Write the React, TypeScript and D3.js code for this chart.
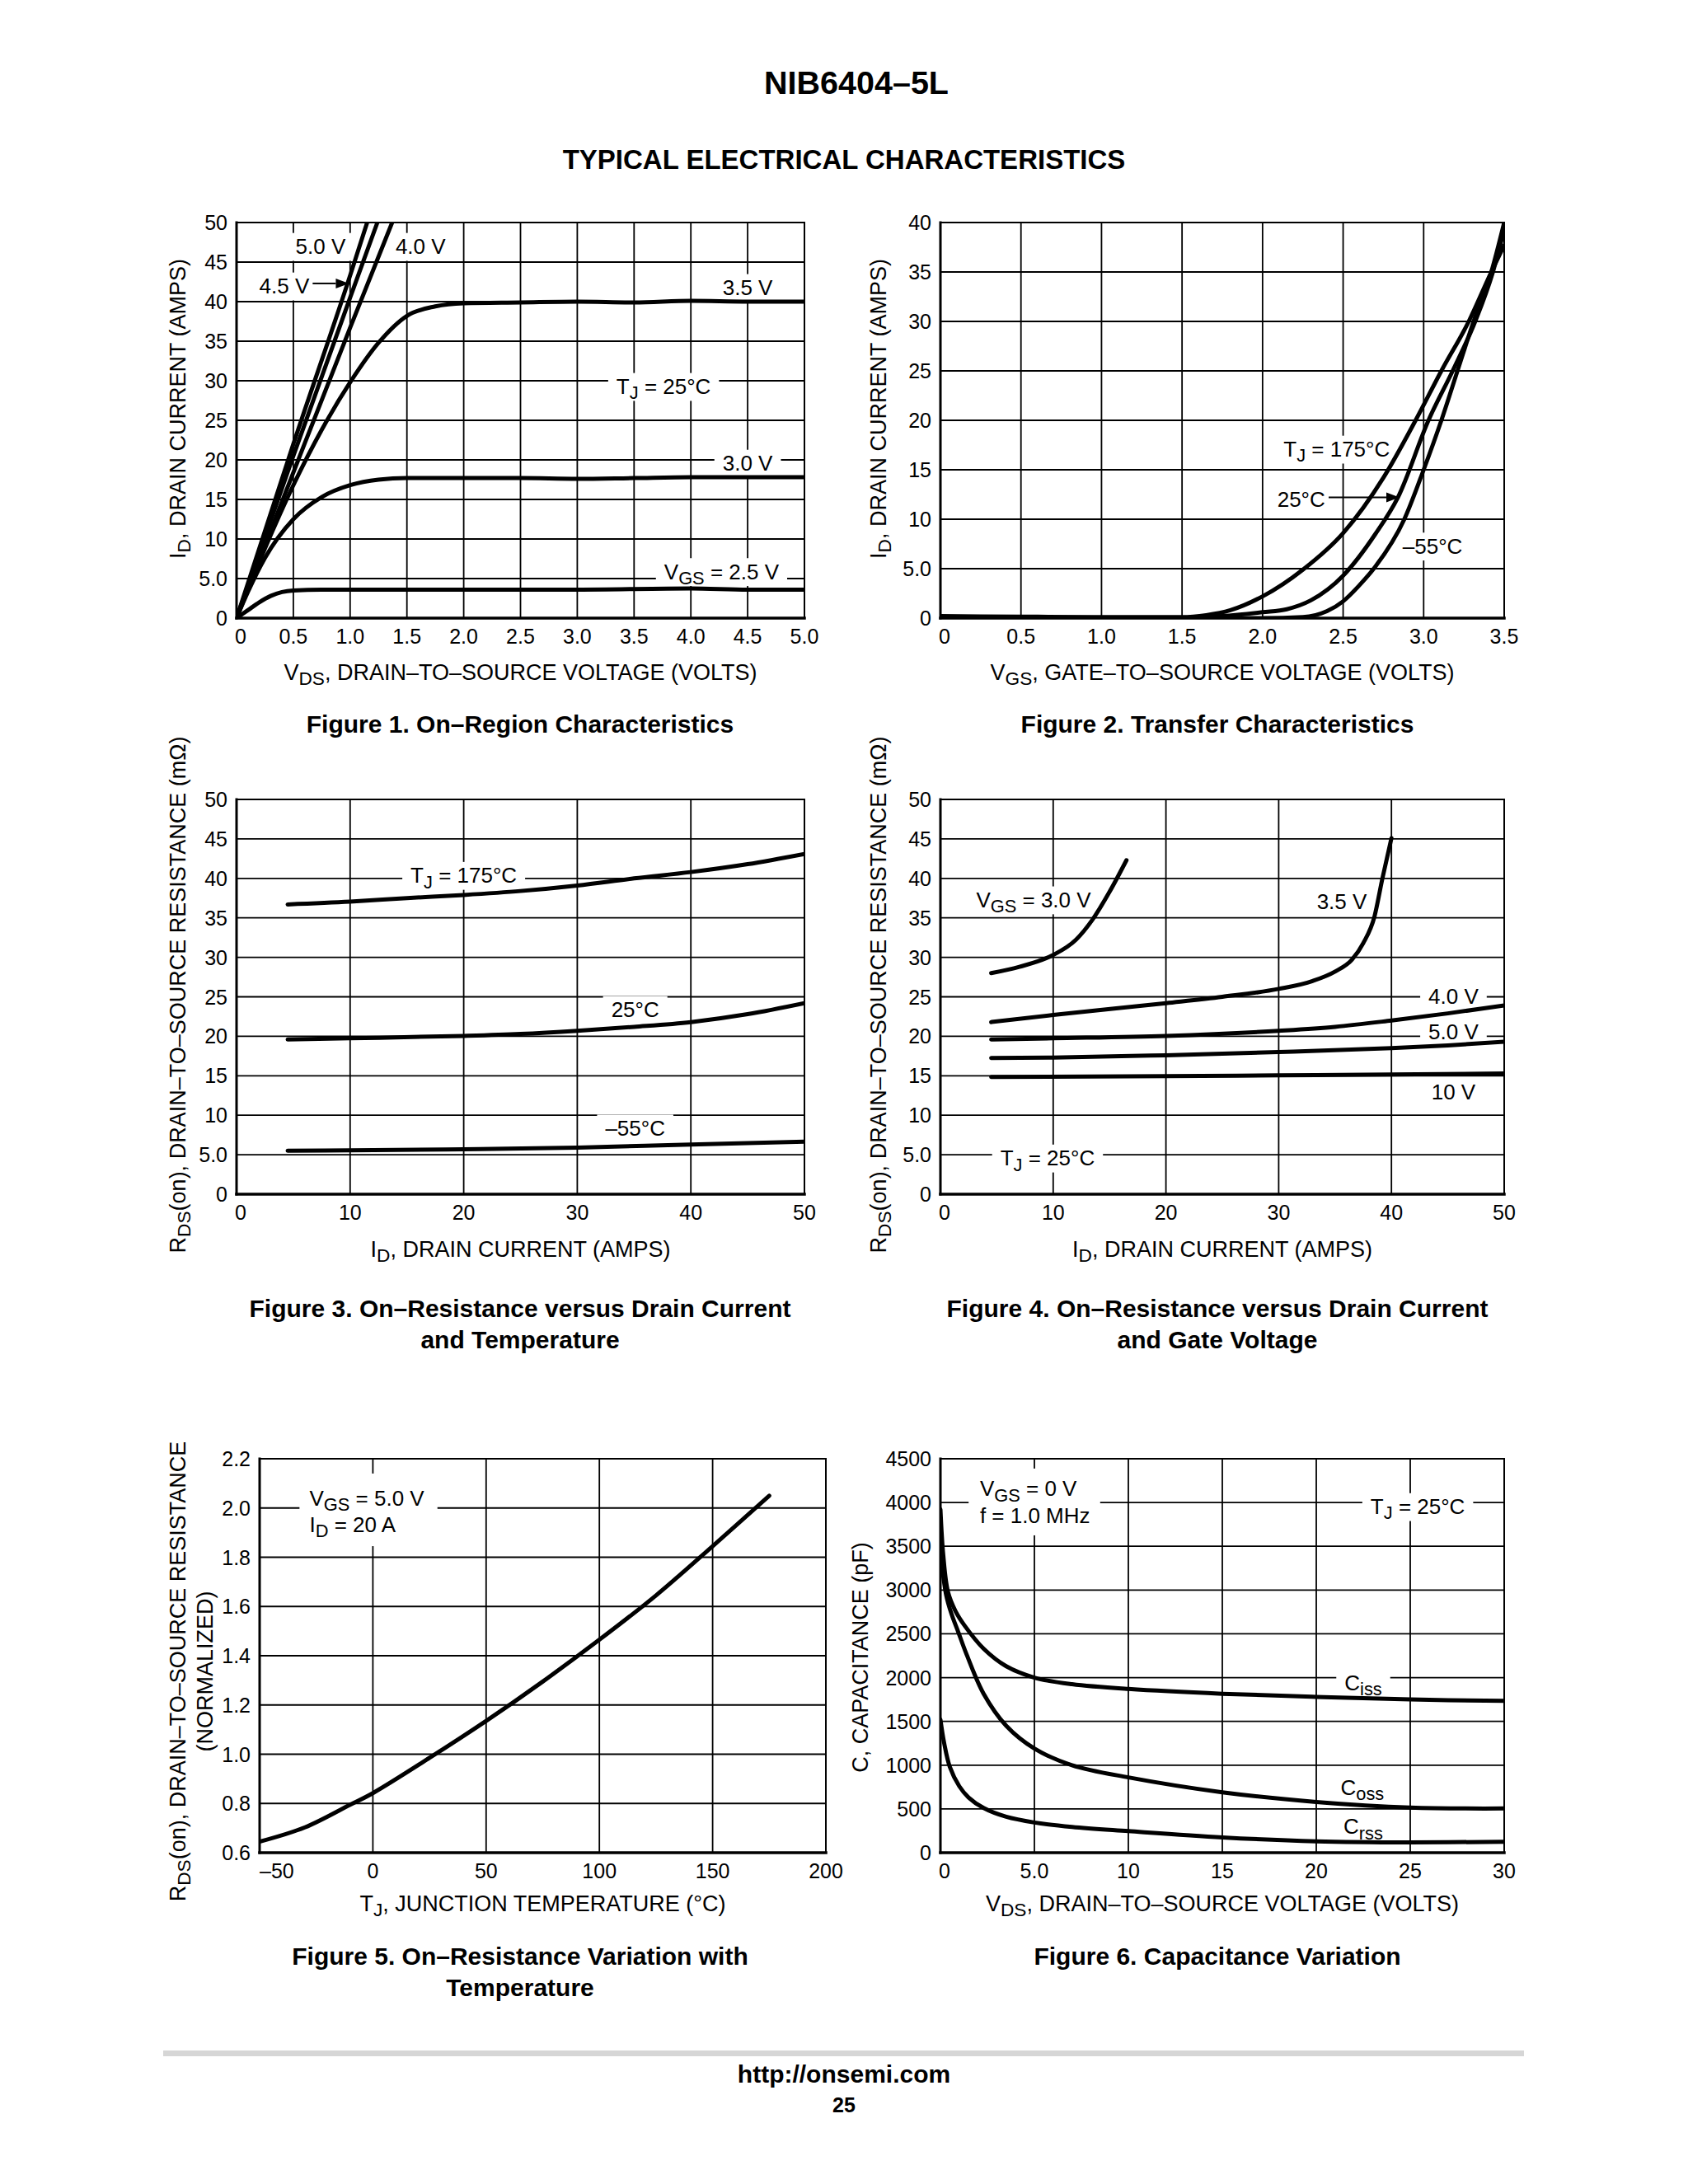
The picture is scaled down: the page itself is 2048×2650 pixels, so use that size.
import React from "react";
import * as d3 from "d3";

type Pt = [number, number];
type Part = string | { sub: string };

// ---------------- Figure 1: On-Region Characteristics ----------------
const fig1XTicks = [0, 0.5, 1, 1.5, 2, 2.5, 3, 3.5, 4, 4.5, 5];
const fig1XTickLabels = ["0", "0.5", "1.0", "1.5", "2.0", "2.5", "3.0", "3.5", "4.0", "4.5", "5.0"];
const fig1YTicks = [0, 5, 10, 15, 20, 25, 30, 35, 40, 45, 50];
const fig1YTickLabels = ["0", "5.0", "10", "15", "20", "25", "30", "35", "40", "45", "50"];
const fig1Vgs50: Pt[] = [[0, 0], [0.5, 22], [1.0, 43.3], [1.15, 50]];
const fig1Vgs45: Pt[] = [[0, 0], [0.5, 20.5], [1.0, 40.5], [1.24, 50]];
const fig1Vgs40: Pt[] = [[0, 0], [0.5, 18.4], [1.0, 36.7], [1.37, 50]];
const fig1Vgs35: Pt[] = [[0, 0], [0.1, 3.6], [0.25, 8.8], [0.5, 16.8], [0.75, 23.8], [1.0, 29.8], [1.25, 34.8], [1.5, 38.2], [1.75, 39.4], [2.0, 39.8], [2.5, 39.9], [3.0, 40.0], [3.5, 39.9], [4.0, 40.1], [4.5, 40.0], [5.0, 40.0]];
const fig1Vgs30: Pt[] = [[0, 0], [0.1, 3.3], [0.25, 7.6], [0.5, 12.5], [0.75, 15.3], [1.0, 16.8], [1.25, 17.5], [1.5, 17.7], [2.0, 17.7], [2.5, 17.7], [3.0, 17.6], [3.5, 17.7], [4.0, 17.8], [4.5, 17.8], [5.0, 17.8]];
const fig1Vgs25: Pt[] = [[0, 0], [0.1, 1.0], [0.2, 2.0], [0.3, 2.8], [0.4, 3.3], [0.5, 3.5], [0.75, 3.6], [1.0, 3.6], [2.0, 3.6], [3.0, 3.6], [4.0, 3.75], [4.5, 3.6], [5.0, 3.6]];

// ---------------- Figure 2: Transfer Characteristics ----------------
const fig2XTicks = [0, 0.5, 1, 1.5, 2, 2.5, 3, 3.5];
const fig2XTickLabels = ["0", "0.5", "1.0", "1.5", "2.0", "2.5", "3.0", "3.5"];
const fig2YTicks = [0, 5, 10, 15, 20, 25, 30, 35, 40];
const fig2YTickLabels = ["0", "5.0", "10", "15", "20", "25", "30", "35", "40"];
const fig2Tj175: Pt[] = [[0, 0.2], [0.5, 0.15], [1.0, 0.1], [1.5, 0.1], [1.65, 0.3], [1.8, 0.8], [2.0, 2.2], [2.25, 4.9], [2.5, 8.6], [2.75, 14.2], [2.95, 20], [3.11, 25], [3.28, 30], [3.42, 35], [3.5, 37.7]];
const fig2Tj25: Pt[] = [[0, 0.05], [1.5, 0.05], [1.75, 0.2], [2.0, 0.6], [2.15, 0.9], [2.3, 1.8], [2.5, 4.3], [2.7, 8.5], [2.84, 12.2], [3.03, 20], [3.18, 25], [3.32, 30], [3.43, 35], [3.5, 39.3]];
const fig2TjM55: Pt[] = [[0, 0], [2.0, 0], [2.25, 0.1], [2.4, 0.7], [2.5, 1.7], [2.6, 3.3], [2.7, 5.2], [2.88, 10], [3.0, 15], [3.11, 20], [3.21, 25], [3.31, 30], [3.42, 35], [3.5, 40]];

// ---------------- Figure 3: On-Resistance vs Drain Current and Temperature ----------------
const fig3XTicks = [0, 10, 20, 30, 40, 50];
const fig3XTickLabels = ["0", "10", "20", "30", "40", "50"];
const fig3YTicks = [0, 5, 10, 15, 20, 25, 30, 35, 40, 45, 50];
const fig3YTickLabels = ["0", "5.0", "10", "15", "20", "25", "30", "35", "40", "45", "50"];
const fig3Tj175: Pt[] = [[4.5, 36.7], [10, 37.05], [15, 37.5], [20, 37.9], [25, 38.4], [30, 39.1], [35, 40.0], [40, 40.8], [45, 41.8], [50, 43.1]];
const fig3Tj25: Pt[] = [[4.5, 19.6], [10, 19.75], [20, 20.05], [25, 20.3], [30, 20.7], [35, 21.2], [40, 21.8], [45, 22.8], [50, 24.2]];
const fig3TjM55: Pt[] = [[4.5, 5.5], [10, 5.55], [20, 5.7], [30, 5.9], [40, 6.3], [50, 6.65]];

// ---------------- Figure 4: On-Resistance vs Drain Current and Gate Voltage ----------------
const fig4Vgs30: Pt[] = [[4.5, 28.0], [7, 28.8], [10, 30.3], [12, 32.2], [13.5, 34.8], [15, 38.3], [16.5, 42.3]];
const fig4Vgs35: Pt[] = [[4.5, 21.8], [10, 22.7], [20, 24.2], [25, 25.0], [30, 26.0], [33, 27.0], [35, 28.2], [36.5, 29.7], [37.5, 31.8], [38.5, 35.2], [39.2, 40.0], [40, 45.1]];
const fig4Vgs40: Pt[] = [[4.5, 19.6], [10, 19.75], [20, 20.05], [30, 20.7], [35, 21.2], [40, 22.0], [45, 22.9], [50, 23.9]];
const fig4Vgs50: Pt[] = [[4.5, 17.25], [10, 17.3], [20, 17.6], [30, 18.0], [40, 18.5], [45, 18.85], [50, 19.3]];
const fig4Vgs10: Pt[] = [[4.5, 14.85], [20, 14.95], [30, 15.05], [40, 15.15], [50, 15.3]];

// ---------------- Figure 5: On-Resistance Variation with Temperature ----------------
const fig5XTicks = [-50, 0, 50, 100, 150, 200];
const fig5XTickLabels = ["–50", "0", "50", "100", "150", "200"];
const fig5YTicks = [0.6, 0.8, 1.0, 1.2, 1.4, 1.6, 1.8, 2.0, 2.2];
const fig5YTickLabels = ["0.6", "0.8", "1.0", "1.2", "1.4", "1.6", "1.8", "2.0", "2.2"];
const fig5Rds: Pt[] = [[-50, 0.645], [-30, 0.703], [-10, 0.795], [0, 0.842], [25, 0.985], [50, 1.135], [75, 1.295], [100, 1.465], [125, 1.645], [150, 1.845], [175, 2.05]];

// ---------------- Figure 6: Capacitance Variation ----------------
const fig6XTicks = [0, 5, 10, 15, 20, 25, 30];
const fig6XTickLabels = ["0", "5.0", "10", "15", "20", "25", "30"];
const fig6YTicks = [0, 500, 1000, 1500, 2000, 2500, 3000, 3500, 4000, 4500];
const fig6YTickLabels = ["0", "500", "1000", "1500", "2000", "2500", "3000", "3500", "4000", "4500"];
const fig6Ciss: Pt[] = [[0, 3920], [0.15, 3400], [0.4, 2980], [0.8, 2760], [1.3, 2590], [2.3, 2330], [3.5, 2130], [5, 2000], [7, 1925], [10, 1870], [15, 1815], [20, 1780], [25, 1750], [30, 1735]];
const fig6Coss: Pt[] = [[0, 3450], [0.3, 2950], [0.6, 2720], [0.95, 2520], [1.4, 2260], [2.3, 1815], [3.5, 1450], [5, 1190], [7, 1000], [10, 860], [15, 690], [20, 580], [25, 515], [30, 505]];
const fig6Crss: Pt[] = [[0, 1520], [0.2, 1250], [0.5, 980], [1.0, 760], [1.5, 630], [2.3, 510], [3.5, 410], [5, 345], [7, 295], [10, 247], [15, 175], [20, 130], [25, 118], [30, 125]];

// ---------------- rendering ----------------
const FONT = '"Liberation Sans", Arial, Helvetica, sans-serif';
const TICK = 25;
const TITLE = 27;
const LABEL = 26;
const CAPTION = 30;
const SUB = 0.84;

let measureCtx: CanvasRenderingContext2D | null = null;
function measure(parts: Part[], size: number): number {
  if (!measureCtx) measureCtx = document.createElement("canvas").getContext("2d");
  let w = 0;
  for (const p of parts) {
    const s = typeof p === "string" ? size : size * SUB;
    const t = typeof p === "string" ? p : p.sub;
    if (measureCtx) {
      measureCtx.font = `${s}px ${FONT}`;
      w += measureCtx.measureText(t).width;
    } else w += t.length * s * 0.6;
  }
  return w;
}

function rich(parts: Part[], size: number) {
  const out: React.ReactNode[] = [];
  let shifted = false;
  const sh = size * 0.24;
  parts.forEach((p, i) => {
    if (typeof p === "string") {
      out.push(
        <tspan key={i} dy={shifted ? -sh : 0} fontSize={size}>
          {p}
        </tspan>
      );
      shifted = false;
    } else {
      out.push(
        <tspan key={i} dy={sh} fontSize={size * SUB}>
          {p.sub}
        </tspan>
      );
      shifted = true;
    }
  });
  return out;
}

type Label = { x: number; y: number; parts: Part[]; anchor?: "middle" | "start"; mask?: boolean };
type Arrow = { from: Pt; to: Pt };
type Mask = { x0: number; x1: number; y0: number; y1: number };

type ChartProps = {
  id: string;
  left: number;
  right: number;
  top: number;
  bottom: number;
  xDomain: [number, number];
  yDomain: [number, number];
  xTicks: number[];
  xTickLabels: string[];
  yTicks: number[];
  yTickLabels: string[];
  series: Pt[][];
  smooth?: boolean;
  labels: Label[];
  arrows?: Arrow[];
  masks?: Mask[];
  xTitle: Part[];
  xTitleY: number;
  yTitle: Part[][];
  yTitleX: number[];
  yTitleCY: number;
  caption: string[];
  captionX: number;
  captionY: number;
  firstXLabelStart?: boolean;
};

function Chart(p: ChartProps) {
  const x = d3.scaleLinear().domain(p.xDomain).range([p.left, p.right]);
  const y = d3.scaleLinear().domain(p.yDomain).range([p.bottom, p.top]);
  const line = d3
    .line<Pt>()
    .x((d) => x(d[0]))
    .y((d) => y(d[1]))
    .curve(p.smooth ? d3.curveCatmullRom.alpha(0.5) : d3.curveMonotoneX);
  const clipId = `clip-${p.id}`;
  const innerX = p.xTicks.filter((t) => t !== p.xDomain[0] && t !== p.xDomain[1]);
  const innerY = p.yTicks.filter((t) => t !== p.yDomain[0] && t !== p.yDomain[1]);
  const gridW = 1.8;

  const labelBoxes = p.labels
    .filter((l) => l.mask !== false)
    .map((l, i) => {
      const w = measure(l.parts, LABEL);
      const cx = x(l.x);
      const cy = y(l.y);
      const lx = l.anchor === "start" ? cx : cx - w / 2;
      return <rect key={"lm" + i} x={lx - 10} y={cy - LABEL * 0.62} width={w + 20} height={LABEL * 1.3} fill="#fff" />;
    });

  return (
    <g>
      <defs>
        <clipPath id={clipId}>
          <rect x={p.left} y={p.top} width={p.right - p.left} height={p.bottom - p.top} />
        </clipPath>
      </defs>
      {innerX.map((t) => (
        <line key={"gx" + t} x1={x(t)} x2={x(t)} y1={p.top} y2={p.bottom} stroke="#000" strokeWidth={gridW} />
      ))}
      {innerY.map((t) => (
        <line key={"gy" + t} x1={p.left} x2={p.right} y1={y(t)} y2={y(t)} stroke="#000" strokeWidth={gridW} />
      ))}
      {labelBoxes}
      {(p.masks || []).map((m, i) => (
        <rect key={"m" + i} x={x(m.x0)} y={y(m.y1)} width={x(m.x1) - x(m.x0)} height={y(m.y0) - y(m.y1)} fill="#fff" />
      ))}
      <line x1={p.left} x2={p.right} y1={p.top} y2={p.top} stroke="#000" strokeWidth={2} strokeLinecap="square" />
      <line x1={p.right} x2={p.right} y1={p.top} y2={p.bottom} stroke="#000" strokeWidth={2} strokeLinecap="square" />
      <line x1={p.left} x2={p.left} y1={p.top} y2={p.bottom} stroke="#000" strokeWidth={3} strokeLinecap="square" />
      <line x1={p.left} x2={p.right} y1={p.bottom} y2={p.bottom} stroke="#000" strokeWidth={3.5} strokeLinecap="square" />
      <g clipPath={`url(#${clipId})`}>
        {p.series.map((s, i) => (
          <path key={"s" + i} d={line(s) || ""} fill="none" stroke="#000" strokeWidth={5} strokeLinejoin="round" strokeLinecap="round" />
        ))}
      </g>
      {(p.arrows || []).map((a, i) => {
        const x1 = x(a.from[0]);
        const y1 = y(a.from[1]);
        const x2 = x(a.to[0]);
        const y2 = y(a.to[1]);
        const ang = Math.atan2(y2 - y1, x2 - x1);
        const L = 16;
        const W = 6;
        const bx = x2 - L * Math.cos(ang);
        const by = y2 - L * Math.sin(ang);
        const px = -Math.sin(ang) * W;
        const py = Math.cos(ang) * W;
        return (
          <g key={"a" + i}>
            <line x1={x1} y1={y1} x2={bx} y2={by} stroke="#000" strokeWidth={2} />
            <polygon points={`${x2},${y2} ${bx + px},${by + py} ${bx - px},${by - py}`} fill="#000" />
          </g>
        );
      })}
      {p.labels.map((l, i) => (
        <text key={"l" + i} x={x(l.x)} y={y(l.y) + LABEL * 0.36} fontSize={LABEL} textAnchor={l.anchor || "middle"}>
          {rich(l.parts, LABEL)}
        </text>
      ))}
      {p.yTicks.map((t, i) => (
        <text key={"yt" + t} x={p.left - 11} y={y(t) + TICK * 0.36} fontSize={TICK} textAnchor="end">
          {p.yTickLabels[i]}
        </text>
      ))}
      {p.xTicks.map((t, i) => (
        <text
          key={"xt" + t}
          x={i === 0 && p.firstXLabelStart ? x(t) : x(t) + (i === 0 ? 5 : 0)}
          y={p.bottom + 31}
          fontSize={TICK}
          textAnchor={i === 0 && p.firstXLabelStart ? "start" : "middle"}
        >
          {p.xTickLabels[i]}
        </text>
      ))}
      <text x={(p.left + p.right) / 2} y={p.xTitleY} fontSize={TITLE} textAnchor="middle">
        {rich(p.xTitle, TITLE)}
      </text>
      {p.yTitle.map((ln, i) => (
        <text
          key={"ytl" + i}
          transform={`translate(${p.yTitleX[i]},${p.yTitleCY}) rotate(-90)`}
          y={TITLE * 0.36}
          fontSize={TITLE}
          textAnchor="middle"
        >
          {rich(ln, TITLE)}
        </text>
      ))}
      {p.caption.map((c, i) => (
        <text key={"c" + i} x={p.captionX} y={p.captionY + i * 38} fontSize={CAPTION} fontWeight="bold" textAnchor="middle">
          {c}
        </text>
      ))}
    </g>
  );
}

const rdsTitle: Part[] = ["R", { sub: "DS" }, "(on), DRAIN–TO–SOURCE RESISTANCE (mΩ)"];
const idTitle: Part[] = ["I", { sub: "D" }, ", DRAIN CURRENT (AMPS)"];
const vdsTitle: Part[] = ["V", { sub: "DS" }, ", DRAIN–TO–SOURCE VOLTAGE (VOLTS)"];

export default function App() {
  const L = { left: 287, right: 976 };
  const R = { left: 1141, right: 1825 };
  const row1 = { top: 270, bottom: 750 };
  const row2 = { top: 970, bottom: 1449 };
  const row3 = { top: 1770, bottom: 2248 };
  return (
    <svg
      width={2048}
      height={2650}
      viewBox="0 0 2048 2650"
      style={{ position: "absolute", left: 0, top: 0, background: "#fff" }}
      fontFamily={FONT}
      fill="#000"
    >
      <rect x={0} y={0} width={2048} height={2650} fill="#fff" />
      <text x={1039} y={114} fontSize={39.5} fontWeight="bold" textAnchor="middle">
        NIB6404–5L
      </text>
      <text x={1024} y={205} fontSize={33} fontWeight="bold" textAnchor="middle">
        TYPICAL ELECTRICAL CHARACTERISTICS
      </text>

      <Chart
        id="f1"
        {...L}
        {...row1}
        xDomain={[0, 5]}
        yDomain={[0, 50]}
        xTicks={fig1XTicks}
        xTickLabels={fig1XTickLabels}
        yTicks={fig1YTicks}
        yTickLabels={fig1YTickLabels}
        series={[fig1Vgs50, fig1Vgs45, fig1Vgs40, fig1Vgs35, fig1Vgs30, fig1Vgs25]}
        labels={[
          { x: 0.74, y: 47.0, parts: ["5.0 V"] },
          { x: 1.62, y: 47.0, parts: ["4.0 V"] },
          { x: 0.42, y: 42.0, parts: ["4.5 V"] },
          { x: 4.5, y: 41.8, parts: ["3.5 V"] },
          { x: 3.76, y: 29.3, parts: ["T", { sub: "J" }, " = 25°C"] },
          { x: 4.5, y: 19.6, parts: ["3.0 V"] },
          { x: 4.27, y: 5.9, parts: ["V", { sub: "GS" }, " = 2.5 V"] },
        ]}
        arrows={[{ from: [0.67, 42.3], to: [0.99, 42.3] }]}
        xTitle={vdsTitle}
        xTitleY={825}
        yTitle={[idTitle]}
        yTitleX={[215]}
        yTitleCY={496}
        caption={["Figure 1. On–Region Characteristics"]}
        captionX={631}
        captionY={889}
      />

      <Chart
        id="f2"
        {...R}
        {...row1}
        xDomain={[0, 3.5]}
        yDomain={[0, 40]}
        xTicks={fig2XTicks}
        xTickLabels={fig2XTickLabels}
        yTicks={fig2YTicks}
        yTickLabels={fig2YTickLabels}
        series={[fig2Tj175, fig2Tj25, fig2TjM55]}
        labels={[
          { x: 2.46, y: 17.1, parts: ["T", { sub: "J" }, " = 175°C"] },
          { x: 2.24, y: 12.0, parts: ["25°C"] },
          { x: 3.055, y: 7.3, parts: ["–55°C"] },
        ]}
        arrows={[{ from: [2.41, 12.2], to: [2.85, 12.2] }]}
        xTitle={["V", { sub: "GS" }, ", GATE–TO–SOURCE VOLTAGE (VOLTS)"]}
        xTitleY={825}
        yTitle={[idTitle]}
        yTitleX={[1065]}
        yTitleCY={496}
        caption={["Figure 2. Transfer Characteristics"]}
        captionX={1477}
        captionY={889}
      />

      <Chart
        id="f3"
        {...L}
        {...row2}
        xDomain={[0, 50]}
        yDomain={[0, 50]}
        xTicks={fig3XTicks}
        xTickLabels={fig3XTickLabels}
        yTicks={fig3YTicks}
        yTickLabels={fig3YTickLabels}
        series={[fig3Tj175, fig3Tj25, fig3TjM55]}
        labels={[
          { x: 20.0, y: 40.4, parts: ["T", { sub: "J" }, " = 175°C"] },
          { x: 35.1, y: 23.4, parts: ["25°C"] },
          { x: 35.1, y: 8.4, parts: ["–55°C"] },
        ]}
        xTitle={idTitle}
        xTitleY={1525}
        yTitle={[rdsTitle]}
        yTitleX={[215]}
        yTitleCY={1207}
        caption={["Figure 3. On–Resistance versus Drain Current", "and Temperature"]}
        captionX={631}
        captionY={1598}
      />

      <Chart
        id="f4"
        {...R}
        {...row2}
        xDomain={[0, 50]}
        yDomain={[0, 50]}
        xTicks={fig3XTicks}
        xTickLabels={fig3XTickLabels}
        yTicks={fig3YTicks}
        yTickLabels={fig3YTickLabels}
        series={[fig4Vgs30, fig4Vgs35, fig4Vgs40, fig4Vgs50, fig4Vgs10]}
        labels={[
          { x: 8.26, y: 37.3, parts: ["V", { sub: "GS" }, " = 3.0 V"] },
          { x: 35.6, y: 37.1, parts: ["3.5 V"], mask: false },
          { x: 45.5, y: 25.1, parts: ["4.0 V"] },
          { x: 45.5, y: 20.6, parts: ["5.0 V"] },
          { x: 45.5, y: 13.0, parts: ["10 V"] },
          { x: 9.5, y: 4.6, parts: ["T", { sub: "J" }, " = 25°C"] },
        ]}
        xTitle={idTitle}
        xTitleY={1525}
        yTitle={[rdsTitle]}
        yTitleX={[1065]}
        yTitleCY={1207}
        caption={["Figure 4. On–Resistance versus Drain Current", "and Gate Voltage"]}
        captionX={1477}
        captionY={1598}
      />

      <Chart
        id="f5"
        left={315}
        right={1002}
        {...row3}
        xDomain={[-50, 200]}
        yDomain={[0.6, 2.2]}
        xTicks={fig5XTicks}
        xTickLabels={fig5XTickLabels}
        yTicks={fig5YTicks}
        yTickLabels={fig5YTickLabels}
        series={[fig5Rds]}
        smooth
        labels={[
          { x: -28.0, y: 2.04, parts: ["V", { sub: "GS" }, " = 5.0 V"], anchor: "start", mask: false },
          { x: -28.0, y: 1.935, parts: ["I", { sub: "D" }, " = 20 A"], anchor: "start", mask: false },
        ]}
        masks={[{ x0: -32.4, x1: 28.5, y0: 1.845, y1: 2.14 }]}
        xTitle={["T", { sub: "J" }, ", JUNCTION TEMPERATURE (°C)"]}
        xTitleY={2319}
        yTitle={[["R", { sub: "DS" }, "(on), DRAIN–TO–SOURCE RESISTANCE"], ["(NORMALIZED)"]]}
        yTitleX={[215, 248]}
        yTitleCY={2028}
        caption={["Figure 5. On–Resistance Variation with", "Temperature"]}
        captionX={631}
        captionY={2384}
        firstXLabelStart
      />

      <Chart
        id="f6"
        {...R}
        {...row3}
        xDomain={[0, 30]}
        yDomain={[0, 4500]}
        xTicks={fig6XTicks}
        xTickLabels={fig6XTickLabels}
        yTicks={fig6YTicks}
        yTickLabels={fig6YTickLabels}
        series={[fig6Ciss, fig6Coss, fig6Crss]}
        smooth
        labels={[
          { x: 2.1, y: 4160, parts: ["V", { sub: "GS" }, " = 0 V"], anchor: "start", mask: false },
          { x: 2.1, y: 3855, parts: ["f = 1.0 MHz"], anchor: "start", mask: false },
          { x: 25.4, y: 3955, parts: ["T", { sub: "J" }, " = 25°C"] },
          { x: 22.5, y: 1945, parts: ["C", { sub: "iss" }] },
          { x: 22.45, y: 745, parts: ["C", { sub: "oss" }] },
          { x: 22.5, y: 302, parts: ["C", { sub: "rss" }] },
        ]}
        masks={[{ x0: 1.5, x1: 8.5, y0: 3625, y1: 4388 }]}
        xTitle={vdsTitle}
        xTitleY={2319}
        yTitle={[["C, CAPACITANCE (pF)"]]}
        yTitleX={[1043]}
        yTitleCY={2011}
        caption={["Figure 6. Capacitance Variation"]}
        captionX={1477}
        captionY={2384}
      />

      <rect x={198} y={2488} width={1651} height={7} fill="#d6d6d6" />
      <text x={1024} y={2527} fontSize={30} fontWeight="bold" textAnchor="middle">
        http://onsemi.com
      </text>
      <text x={1024} y={2563} fontSize={25} fontWeight="bold" textAnchor="middle">
        25
      </text>
    </svg>
  );
}
